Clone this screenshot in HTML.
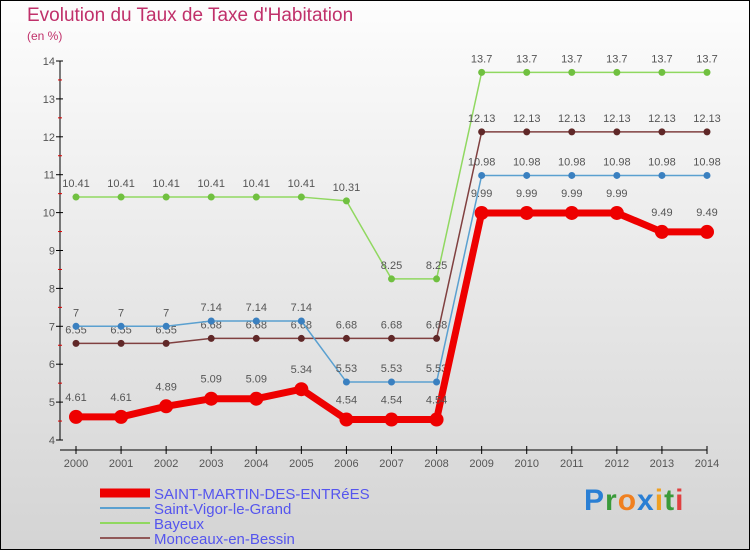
<!DOCTYPE html>
<html><head><meta charset="utf-8"><style>
body{margin:0}
#c{width:748px;height:548px;border:1px solid #000;background:linear-gradient(#fdfdfd,#d4d4d4);position:relative;font-family:"Liberation Sans",sans-serif;overflow:hidden}
.t{position:absolute;color:#c0306a}
</style></head><body>
<div id="c">
<div class="t" style="left:26px;top:4px;font-size:19px">Evolution du Taux de Taxe d'Habitation</div>
<div class="t" style="left:26px;top:28px;font-size:12px">(en %)</div>
<svg id="s" width="750" height="550" style="position:absolute;left:-1px;top:-1px"></svg>
<div style="position:absolute;left:583px;top:483px;font-size:30px;font-weight:bold;letter-spacing:1px"><span style="color:#2a7fd4">P</span><span style="color:#3a9a3a">r</span><span style="color:#f08020">o</span><span style="color:#2a7fd4">x</span><span style="color:#f0a020">i</span><span style="color:#3a9a3a">t</span><span style="color:#e04040">i</span></div>
</div>
<script>
const years=[2000,2001,2002,2003,2004,2005,2006,2007,2008,2009,2010,2011,2012,2013,2014];
const yTicks=[4,5,6,7,8,9,10,11,12,13,14];
const names=["SAINT-MARTIN-DES-ENTRéES","Saint-Vigor-le-Grand","Bayeux","Monceaux-en-Bessin"];
const sStMartin=[4.61,4.61,4.89,5.09,5.09,5.34,4.54,4.54,4.54,9.99,9.99,9.99,9.99,9.49,9.49];
const sStVigor=[7,7,7,7.14,7.14,7.14,5.53,5.53,5.53,10.98,10.98,10.98,10.98,10.98,10.98];
const sBayeux=[10.41,10.41,10.41,10.41,10.41,10.41,10.31,8.25,8.25,13.7,13.7,13.7,13.7,13.7,13.7];
const sMonceaux=[6.55,6.55,6.55,6.68,6.68,6.68,6.68,6.68,6.68,12.13,12.13,12.13,12.13,12.13,12.13];
const X=i=>76+i*(707-76)/(years.length-1);
const Y=v=>440-(v-4)*(440-61)/10;
const NS="http://www.w3.org/2000/svg",svg=document.getElementById('s');
function mk(t,a,p){const e=document.createElementNS(NS,t);for(const k in a)e.setAttribute(k,a[k]);(p||svg).appendChild(e);return e;}
// axes
let ax=mk('path',{d:'M60 61V440M60 450H707',stroke:'#000','stroke-width':1,fill:'none'});

yTicks.forEach(v=>{
 mk('line',{x1:56,x2:63,y1:Y(v),y2:Y(v),stroke:'#000'});
 if(v<14){const m=mk('line',{x1:58,x2:62,y1:Y(v+0.5),y2:Y(v+0.5),stroke:'#d00'});}
 const t=mk('text',{x:55,y:Y(v)+4,'text-anchor':'end','font-size':11,fill:'#555'});t.textContent=v;
 
});
years.forEach((y,i)=>{
 mk('line',{x1:X(i),x2:X(i),y1:446,y2:454,stroke:'#000'});
 const t=mk('text',{x:X(i),y:467,'text-anchor':'middle','font-size':11,fill:'#555'});t.textContent=y;
 
});
function series(d,col,dot,w,r,lab,name){
 const p=mk('polyline',{points:d.map((v,i)=>X(i)+','+Y(v)).join(' '),fill:'none',stroke:col,'stroke-width':w,'stroke-linejoin':'round'});
 
 d.forEach((v,i)=>{
  const c=mk('circle',{cx:X(i),cy:Y(v),r:r,fill:dot});
  
  const t=mk('text',{x:X(i),y:Y(v)-10-(r>4?6:0),'text-anchor':'middle','font-size':11,fill:'#555'});t.textContent=v;
  
 });
}
series(sBayeux,'#90d860','#70c040',1.5,3.5,1,'bayeux');
series(sMonceaux,'#804040','#602828',1.5,3.5,1,'monceaux');
series(sStVigor,'#5aa0d0','#3a80c0',1.5,3.5,1,'saint-vigor');
series(sStMartin,'#ee0000','#ee0000',7,7,1,'saint-martin');
// legend
const lc=['#ee0000','#5aa0d0','#90d860','#905858'],lw=[9,2,2,2];
names.forEach((n,i)=>{
 const y=493+i*15;
 const l=mk('line',{x1:100,x2:150,y1:y,y2:y,stroke:lc[i],'stroke-width':lw[i]});
 
 const t=mk('text',{x:154,y:y+6,'font-size':15,fill:'#5555ee'});t.textContent=n;
 
});
</script>
</body></html>
